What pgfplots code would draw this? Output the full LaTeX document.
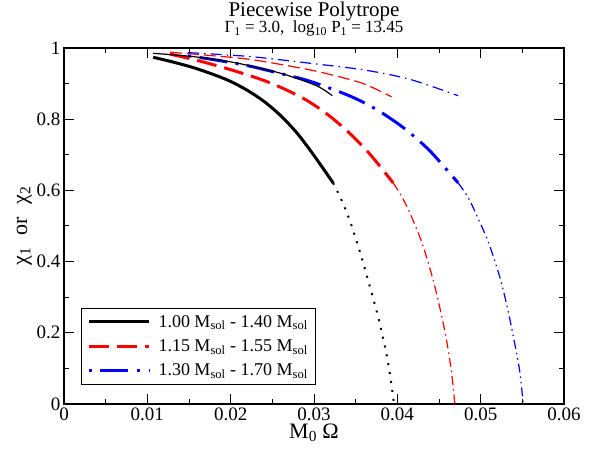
\documentclass[border=0pt]{standalone}
\usepackage{fontspec}
\setmainfont{Liberation Serif}
\usepackage{pgfplots}
\pgfplotsset{compat=1.18}
\definecolor{gred}{RGB}{255,0,0}
\definecolor{gblue}{RGB}{0,0,255}
\begin{document}
\begin{tikzpicture}
\begin{axis}[
  scale only axis, width=500pt, height=356pt,
  xmin=0, xmax=0.06, ymin=0, ymax=1,
  xtick={0,0.01,0.02,0.03,0.04,0.05,0.06},
  ytick={0,0.2,0.4,0.6,0.8,1},
  minor x tick num=1, minor y tick num=1,
  scaled x ticks=false, scaled y ticks=false,
  xticklabel style={/pgf/number format/fixed, /pgf/number format/precision=2},
  yticklabel style={/pgf/number format/fixed, /pgf/number format/precision=1},
  /pgf/number format/assume math mode=true,
  tick label style={font=\fontsize{19}{19}\selectfont},
  label style={font=\fontsize{22}{24}\selectfont},
  xlabel style={yshift=3pt},
  ylabel style={yshift=-2pt},
  major tick length=10pt, minor tick length=5pt,
  tick style={line width=1pt, black},
  axis line style={line width=1.3pt},
  xlabel={M\textsubscript{0} Ω},
  ylabel={χ\textsubscript{1}\hspace{0.55em}or\hspace{0.55em}χ\textsubscript{2}},
  clip=false,
  legend image code/.code={\draw[#1] (0pt,0pt) -- (60pt,0pt); \path (66pt,0pt);},
  legend style={at={(0.034,0.0534)}, anchor=south west, draw=black, line width=1pt,
    font=\fontsize{18}{21}\selectfont, inner xsep=6pt, inner ysep=5pt, row sep=7pt},
  legend cell align=left,
]
% thick chi_1 curves (legend)
\addplot[black, line width=3pt, smooth] coordinates {
(0.0107,0.974) (0.0130,0.961) (0.0155,0.945) (0.0180,0.925) (0.0200,0.906)
(0.0220,0.881) (0.0240,0.850) (0.0260,0.810) (0.0280,0.760) (0.0300,0.698) (0.0323,0.621)};
\addlegendentry{1.00 M\textsubscript{sol} - 1.40 M\textsubscript{sol}}
\addplot[gred, line width=3pt, dash pattern=on 20pt off 8pt, smooth] coordinates {
(0.0127,0.983) (0.0155,0.968) (0.0187,0.948) (0.0218,0.926) (0.0243,0.906)
(0.0267,0.882) (0.0292,0.852) (0.0317,0.812) (0.0342,0.762) (0.0367,0.702) (0.0395,0.621)};
\addlegendentry{1.15 M\textsubscript{sol} - 1.55 M\textsubscript{sol}}
\addplot[gblue, line width=3pt, dash pattern=on 3pt off 8.5pt on 28pt off 8.5pt, smooth] coordinates {
(0.0149,0.978) (0.0183,0.966) (0.0221,0.950) (0.0255,0.931) (0.0289,0.911)
(0.0318,0.888) (0.0349,0.859) (0.0378,0.823) (0.0409,0.773) (0.0439,0.711) (0.0473,0.621)};
\addlegendentry{1.30 M\textsubscript{sol} - 1.70 M\textsubscript{sol}}
% continuations beyond turning point
\addplot[forget plot, black, line width=2pt, dash pattern=on 2pt off 7pt, smooth] coordinates {
(0.0323,0.621) (0.0333,0.573) (0.0343,0.515) (0.0355,0.428) (0.0367,0.330)
(0.0378,0.235) (0.0387,0.140) (0.0392,0.070) (0.0396,0.0)};
\addplot[forget plot, gred, line width=1.2pt, dash pattern=on 9pt off 4pt on 1.5pt off 4pt, smooth] coordinates {
(0.0395,0.621) (0.0406,0.580) (0.0417,0.526) (0.0430,0.450) (0.0443,0.348)
(0.0452,0.260) (0.0459,0.180) (0.0465,0.090) (0.0469,0.0)};
\addplot[forget plot, gblue, line width=1.2pt, dash pattern=on 9pt off 4pt on 1.5pt off 4pt on 1.5pt off 4pt, smooth] coordinates {
(0.0473,0.621) (0.0485,0.580) (0.0496,0.526) (0.0510,0.450) (0.0524,0.348)
(0.0533,0.260) (0.0540,0.180) (0.0547,0.090) (0.0551,0.0)};
% thin chi_2 curves
\addplot[forget plot, black, line width=1.2pt, smooth] coordinates {
(0.0107,0.985) (0.0150,0.977) (0.0190,0.965) (0.0223,0.950) (0.0263,0.927)
(0.0303,0.894) (0.0322,0.866)};
\addplot[forget plot, gred, line width=1.2pt, dash pattern=on 12pt off 5pt, smooth] coordinates {
(0.0127,0.988) (0.0165,0.981) (0.0223,0.968) (0.0283,0.944) (0.0317,0.927)
(0.0359,0.900) (0.0393,0.863)};
\addplot[forget plot, gblue, line width=1.2pt, dash pattern=on 11pt off 5pt on 1.5pt off 5pt, smooth] coordinates {
(0.0149,0.987) (0.0223,0.976) (0.0303,0.955) (0.0361,0.938) (0.0415,0.912) (0.0473,0.866)};
% titles
\node[anchor=base, font=\fontsize{21}{24}\selectfont] at (rel axis cs:0.5,1) [yshift=31pt] {Piecewise Polytrope};
\node[anchor=base, font=\fontsize{17}{20}\selectfont] at (rel axis cs:0.5,1) [yshift=15pt]
  {Γ\textsubscript{1} = 3.0,\ \ log\textsubscript{10} P\textsubscript{1} = 13.45};
\end{axis}
\pgfresetboundingbox
\path[use as bounding box] ([xshift=-64pt,yshift=-50pt]current axis.south west) rectangle ([xshift=31pt,yshift=48pt]current axis.north east);
\end{tikzpicture}
\end{document}
